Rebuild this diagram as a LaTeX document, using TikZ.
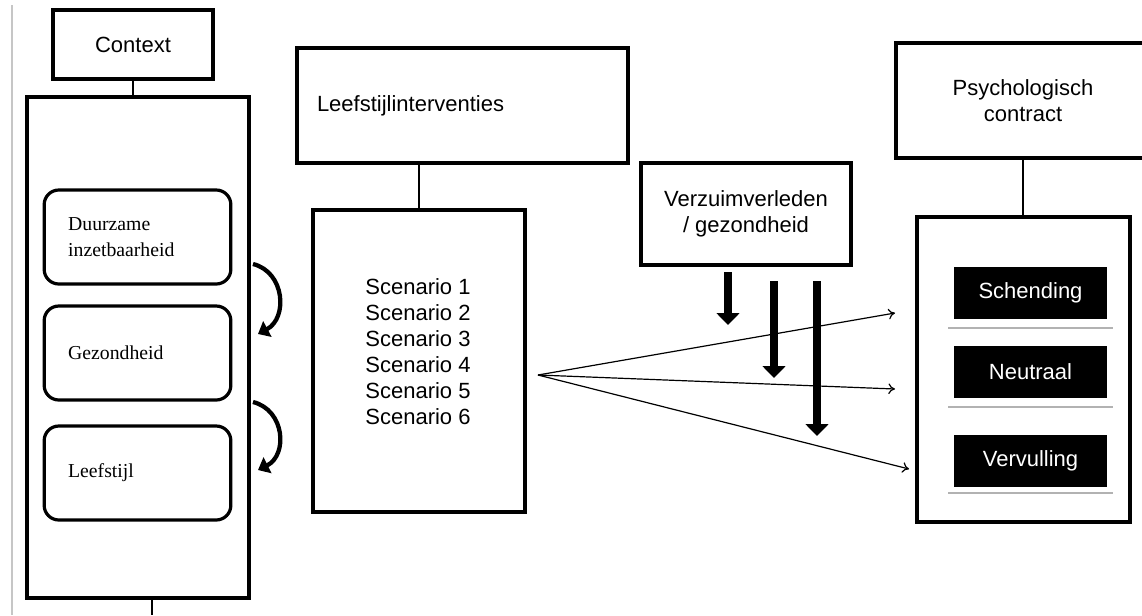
\documentclass[tikz,border=0pt]{standalone}
\usepackage{fontspec}
\setmainfont{Liberation Serif}
\newfontfamily\arial{Liberation Sans}
\usetikzlibrary{arrows.meta}

\begin{document}
\begin{tikzpicture}[x=0.75pt,y=-0.75pt,
    frame/.style={draw,line width=3pt,inner sep=0pt,align=center,
      font=\arial\fontsize{16.5}{19.5}\selectfont},
    factor/.style={draw,line width=2.4pt,rounded corners=11pt,
      minimum width=140pt,minimum height=70.5pt,text width=104pt,
      inner xsep=18pt,align=left,font=\fontsize{14.8}{19}\selectfont},
    outcome/.style={fill=black,text=white,inner sep=0pt,
      minimum width=114.75pt,minimum height=39pt,
      font=\arial\fontsize{16.5}{19.5}\selectfont},
    link/.style={line width=0.8pt},
    fan/.style={line width=0.9pt,-{To[length=5pt,width=8pt]}},
    push/.style={line width=6pt,-{Triangle[length=9pt,width=17pt]}},
    turn/.style={line width=3.2pt,-{Triangle[length=8pt,width=13pt]}}]
  \useasboundingbox (0,0) rectangle (1142,615);
  \clip (0,0) rectangle (1142,615);
  \draw[gray!45,line width=1.2pt] (12,5) -- (12,615);

  % context column
  \node[frame,minimum width=120pt,minimum height=51.75pt] (ctx) at (133,44.5) {Context};
  \node[frame,minimum width=166.5pt,minimum height=375.75pt] (cbox) at (138,347.5) {};
  \def \Factors{
    dur/237/{Duurzame\\inzetbaarheid},
    gez/353/Gezondheid,
    lee/473/Leefstijl}
  \foreach \id / \y / \txt in \Factors{
    \node[factor] (\id) at (137.5,\y) {\txt};
  }
  \draw[link] (ctx.south) -- (ctx.south |- cbox.north);
  \coordinate (cend) at (152,615);
  \draw[link] (cbox.south -| cend) -- (cend);
  \coordinate (ua) at (253,264);
  \coordinate (ub) at (258,334);
  \coordinate (va) at (253,402);
  \coordinate (vb) at (258,470);
  \draw[turn] (ua) .. controls (285,272) and (288,318) .. (ub);
  \draw[turn] (va) .. controls (285,410) and (288,455) .. (vb);

  % interventions
  \node[frame,minimum width=248.25pt,minimum height=86.25pt,text width=218.25pt,
    inner xsep=15pt,align=left] (lsi) at (462.5,105.5) {Leefstijlinterventies};
  \node[frame,minimum width=159pt,minimum height=226.5pt] (scen) at (419,361) {};
  \draw[link] (scen.north |- lsi.south) -- (scen.north);
  \foreach \i in {1,...,6}{
    \node[font=\arial\fontsize{16.5}{19.5}\selectfont] (s\i) at (418,261+26*\i) {Scenario \i};
  }

  % moderator
  \node[frame,minimum width=157.5pt,minimum height=76.5pt] (verz) at (746,214) {Verzuimverleden\\/ gezondheid};

  % psychological contract
  \node[frame,minimum width=190.5pt,minimum height=86.25pt] (psy) at (1023,100.5) {Psychologisch\\contract};
  \node[frame,minimum width=159.75pt,minimum height=228.75pt] (pbox) at (1023.5,369.5) {};
  \draw[link] (psy.south) -- (psy.south |- pbox.north);
  \def \Outcomes{
    sch/292.5/328/Schending,
    neu/371.5/407/Neutraal,
    ver/460.5/493/Vervulling}
  \foreach \id / \y / \g / \txt in \Outcomes{
    \node[outcome] (\id) at (1030.5,\y) {\txt};
    \draw[gray!60,line width=2.2pt] (948,\g) -- (1113,\g);
  }

  % effects
  \coordinate (fan) at (538,375);
  \coordinate (t1) at (895,313);
  \coordinate (t2) at (895,389);
  \coordinate (t3) at (909,469);
  \foreach \t in {t1,t2,t3}{
    \draw[fan] (fan) -- (\t);
  }
  \def \Pushes{
    a/728/272/325,
    b/774/281/378,
    c/817/281/436}
  \foreach \id / \x / \ya / \yb in \Pushes{
    \coordinate (p\id) at (\x,\ya);
    \coordinate (q\id) at (\x,\yb);
    \draw[push] (p\id) -- (q\id);
  }
\end{tikzpicture}
\end{document}
